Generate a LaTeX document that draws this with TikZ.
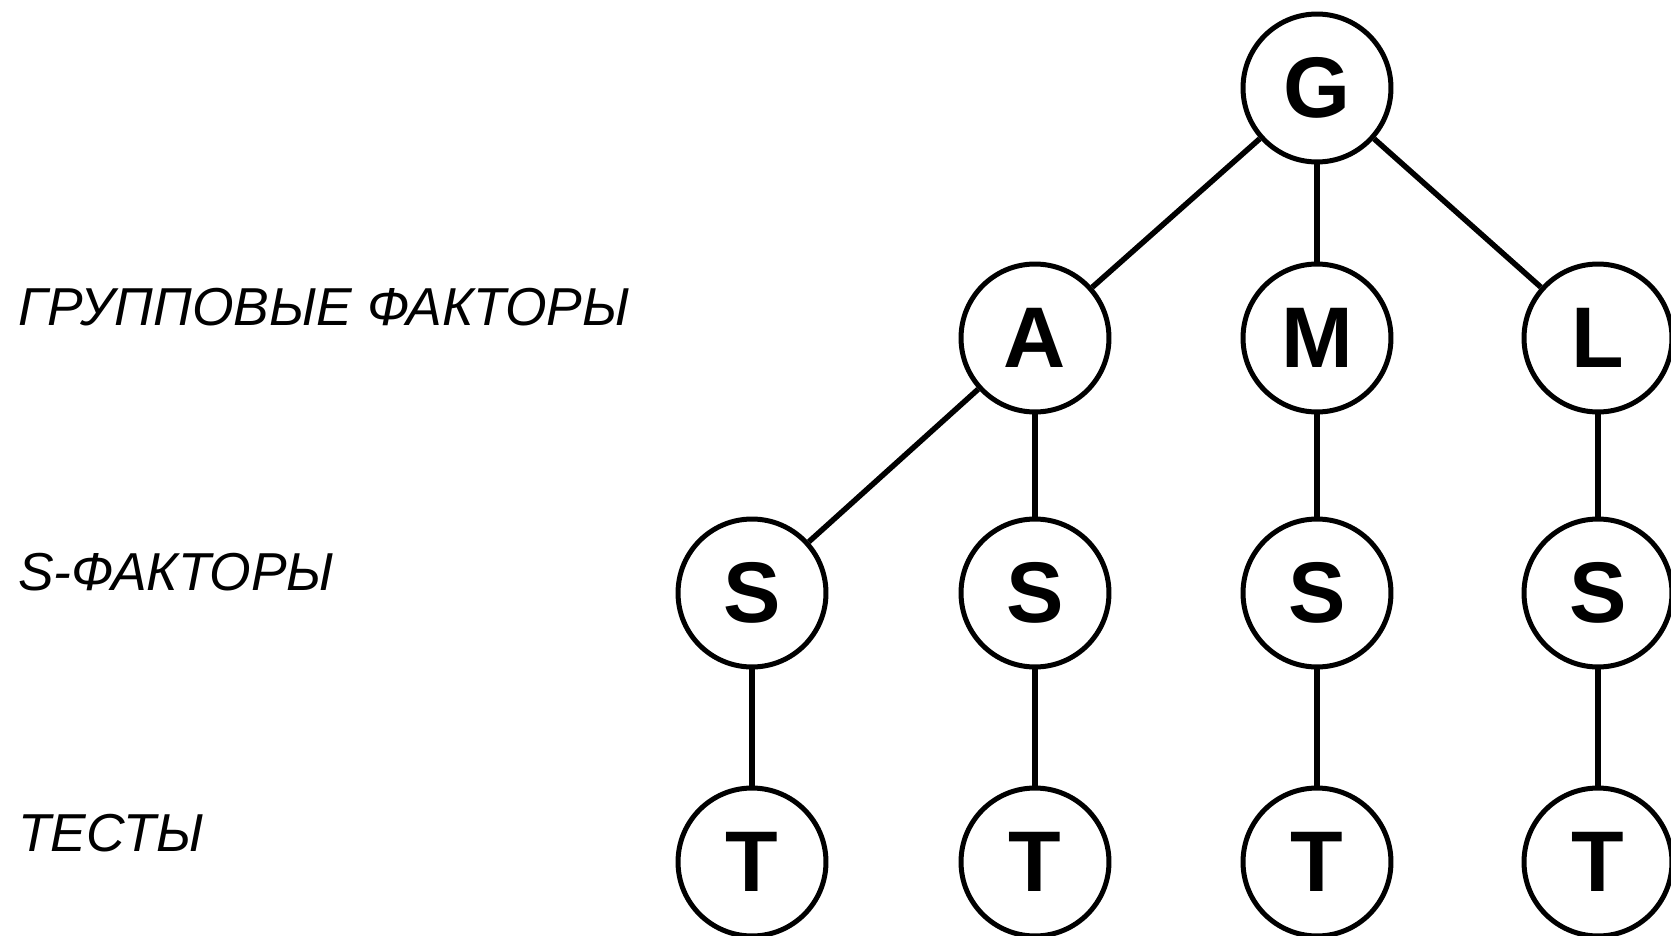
\documentclass[tikz,border=0pt]{standalone}
\usepackage{fontspec}
\setmainfont{Liberation Sans}
\usepackage{tikz}
\usepackage{xcolor}

\begin{document}
\begin{tikzpicture}[x=0.02cm,y=-0.02cm,
  factornode/.style={circle,draw,line width=0.1cm,minimum size=2.96cm,inner sep=0pt,
    font=\fontsize{49}{50}\selectfont\bfseries},
  levelname/.style={anchor=base west,inner sep=0pt,font=\fontsize{30.4}{31}\selectfont\itshape},
  link/.style={line width=0.11cm}]
\useasboundingbox (0,0) rectangle (1671,936);
\node [levelname] (group) at (18,325) {ГРУППОВЫЕ ФАКТОРЫ};
\node [levelname] (sfactors) at (18,590) {S-ФАКТОРЫ};
\node [levelname] (tests) at (18,851) {ТЕСТЫ};
\node [factornode] (g) at (1317,88) {G};
  \foreach \nm/\txt/\pos in {a/A/1035,m/M/1317,l/L/1598}
  {  \node [factornode] (\nm) at (\pos,338) {\txt};}
  \foreach \i/\pos in {1/752,2/1035,3/1317,4/1598}
  {  \node [factornode] (s\i) at (\pos,593) {S};
     \node [factornode] (t\i) at (\pos,862) {T};
     \draw [link] (s\i) -- (t\i);}
  \foreach \from/\to in {g/a,g/m,g/l,a/s1,a/s2,m/s3,l/s4}
  {  \draw [link] (\from) -- (\to);}
\end{tikzpicture}
\end{document}
